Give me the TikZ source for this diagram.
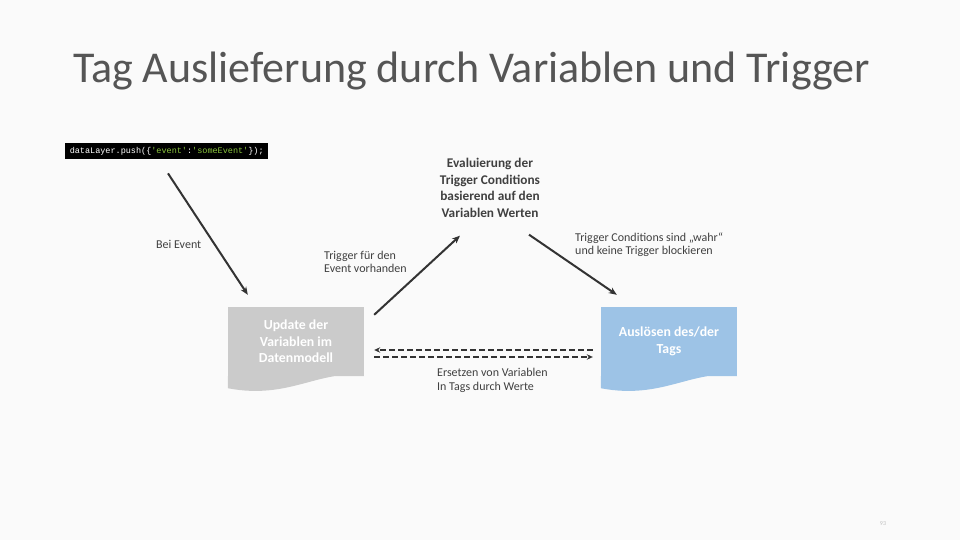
\documentclass[tikz,border=0pt]{standalone}
\usepackage{fontspec}
\setmainfont{Carlito}
\setmonofont{Liberation Mono}
\usetikzlibrary{arrows.meta}
\definecolor{bgc}{HTML}{FAFAFA}
\definecolor{titlec}{HTML}{555555}
\definecolor{txt}{HTML}{404040}
\definecolor{boxgray}{HTML}{CBCBCB}
\definecolor{boxblue}{HTML}{9DC3E6}
\definecolor{codegreen}{HTML}{8CC63F}
\definecolor{arr}{HTML}{333333}
\definecolor{pgnum}{HTML}{C0C0C0}
\begin{document}
\begin{tikzpicture}[x=1pt,y=-1pt,
  lbl/.style={font=\fontsize{12}{13.5}\selectfont, text=txt, align=left, inner sep=0pt, anchor=west},
  evlbl/.style={font=\bfseries\fontsize{13.3}{16.5}\selectfont, text=txt, align=center, inner sep=0pt},
  docbox/.style={minimum width=136pt, minimum height=69pt, inner sep=0pt, align=center, text=white, font=\bfseries\fontsize{13.8}{16.5}\selectfont},
  solidarrow/.style={draw=arr, line width=2pt, -{Stealth[length=8pt,width=6.5pt]}},
  dasharrow/.style={draw=arr, line width=1.6pt, dash pattern=on 6pt off 3pt, -{Stealth[length=6pt,width=5.5pt]}}
]
\fill[bgc] (0,0) rectangle (960,540);
\useasboundingbox (0,0) rectangle (960,540);

% title
\node[anchor=base west, inner sep=0pt, font=\fontsize{44}{52}\selectfont, text=titlec] (title) at (73,83) {Tag Auslieferung durch Variablen und Trigger};

% code box
\node[fill=black, minimum width=203pt, minimum height=16pt, anchor=north west, inner sep=0pt] (code) at (65,143)
  {\fontsize{8.5}{10}\ttfamily\color{white}dataLayer.push(\{\color{codegreen}'event'\color{white}:\color{codegreen}'someEvent'\color{white}\});};

% document shapes
\node[docbox, fill=boxgray] (upd) at (296,341.5) {Update der\\Variablen im\\Datenmodell};
\fill[boxgray] (upd.south east) .. controls +(-44,-8) and +(62,12) .. ([shift={(0,12)}]upd.south west) -- (upd.south west) -- cycle;
\node[docbox, fill=boxblue] (blu) at (669,341.5) {Auslösen des/der\\Tags};
\fill[boxblue] (blu.south east) .. controls +(-44,-8) and +(62,12) .. ([shift={(0,12)}]blu.south west) -- (blu.south west) -- cycle;

% labels
\node[lbl] (bei) at (156,244) {Bei Event};
\node[lbl] (trig) at (324,262) {Trigger für den\\Event vorhanden};
\node[evlbl] (eval) at (490,188) {Evaluierung der\\Trigger Conditions\\basierend auf den\\Variablen Werten};
\node[lbl] (cond) at (575,244.5) {Trigger Conditions sind „wahr“\\und keine Trigger blockieren};
\node[lbl, font=\fontsize{12}{14}\selectfont] (ers) at (437,380) {Ersetzen von Variablen\\In Tags durch Werte};
\node[inner sep=0pt, font=\fontsize{6}{7}\selectfont, text=pgnum] (pg) at (883,524) {93};

% solid arrows
\draw[solidarrow] ([shift={(103,14)}]code.south west) -- ([shift={(20,-12)}]upd.north west);
\draw[solidarrow] ([shift={(10,8)}]upd.north east) -- ([shift={(-30,18)}]eval.south);
\draw[solidarrow] ([shift={(39,17)}]eval.south) -- ([shift={(16,-12)}]blu.north west);

% dashed arrows
\draw[dasharrow] ([shift={(-8,8.5)}]blu.west) -- ([shift={(10,8.5)}]upd.east);
\draw[dasharrow] ([shift={(10,15.5)}]upd.east) -- ([shift={(-8,15.5)}]blu.west);
\end{tikzpicture}
\end{document}
